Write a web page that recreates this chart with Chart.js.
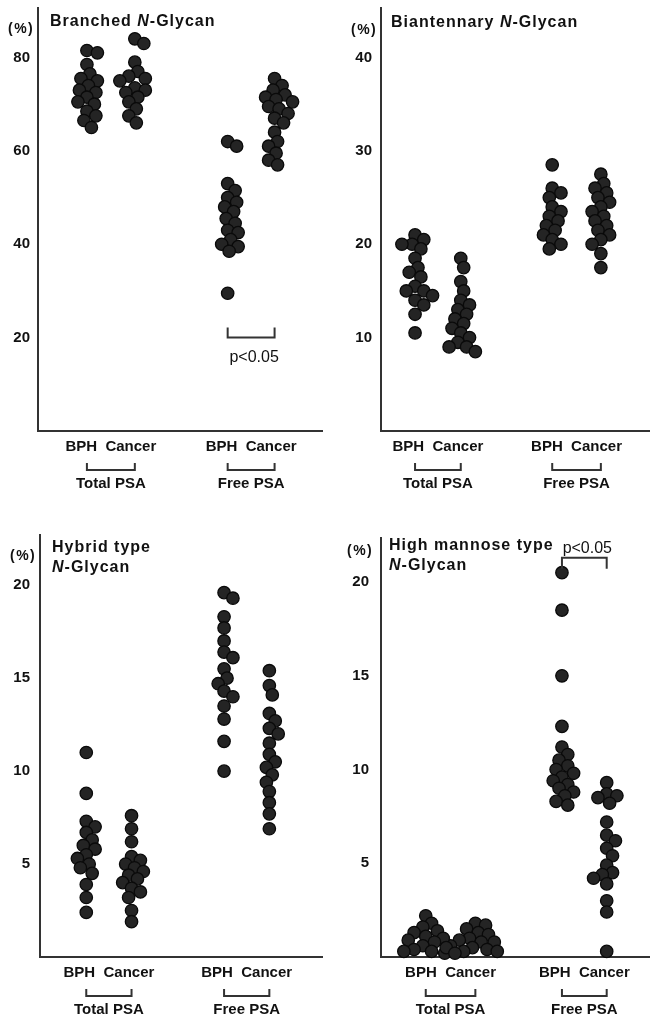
<!DOCTYPE html>
<html>
<head>
<meta charset="utf-8">
<script src="https://cdn.jsdelivr.net/npm/chart.js@4.4.1/dist/chart.umd.min.js"></script>
<style>
  html, body { margin: 0; padding: 0; background: #fff; }
  body { width: 657px; height: 1021px; position: relative; overflow: hidden;
         font-family: "Liberation Sans", Arial, sans-serif; color: #111; }
  .panel { position: absolute; }
  .panel canvas { display: block; }
  .title { position: absolute; font-weight: bold; font-size: 16px; line-height: 20px;
           letter-spacing: 1px; white-space: nowrap; }
  .unit { position: absolute; font-weight: bold; font-size: 14px; line-height: 20px; letter-spacing: 1.5px; white-space: nowrap; }
</style>
</head>
<body>

<div class="panel" style="left:0;top:0"><canvas id="c1" width="330" height="505"></canvas></div>
<div class="panel" style="left:330px;top:0"><canvas id="c2" width="327" height="505"></canvas></div>
<div class="panel" style="left:0;top:510px"><canvas id="c3" width="330" height="511"></canvas></div>
<div class="panel" style="left:330px;top:510px"><canvas id="c4" width="327" height="511"></canvas></div>

<div class="unit" style="left:8px;top:18px">(%)</div>
<div class="title" style="left:50px;top:11px">Branched <i>N</i>-Glycan</div>

<div class="unit" style="left:351px;top:19px">(%)</div>
<div class="title" style="left:391px;top:12px">Biantennary <i>N</i>-Glycan</div>

<div class="unit" style="left:10px;top:545px">(%)</div>
<div class="title" style="left:52px;top:537px">Hybrid type<br><i>N</i>-Glycan</div>

<div class="unit" style="left:347px;top:540px">(%)</div>
<div class="title" style="left:389px;top:535px">High mannose type<br><i>N</i>-Glycan</div>

<script>
// ── Categories ────────────────────────────────────────────────────────────
const groups = ['BPH', 'Cancer'];
const psaTypes = ['Total PSA', 'Free PSA'];

// ── Branched N-Glycan (%) ─────────────────────────────────────────────────
const branchedTicks = [20, 40, 60, 80];
const branchedTotalBPH    = [81.5, 81, 78.5, 76.5, 75.5, 75, 74, 73, 72.5, 71.5, 70.5, 70, 68.5, 67.5, 66.5, 65];
const branchedTotalCancer = [84, 83, 79, 77, 76, 75.5, 75, 73.5, 73, 72.5, 71.5, 70.5, 69, 67.5, 66];
const branchedFreeBPH     = [62, 61, 53, 51.5, 50, 49, 48, 47, 45.5, 44.5, 43, 42.5, 41, 40, 39.5, 38.5, 29.5];
const branchedFreeCancer  = [75.5, 74, 73, 72, 71.5, 71, 70.5, 69.5, 69, 68, 67, 66, 64, 62, 61, 59.5, 58, 57];

// ── Biantennary N-Glycan (%) ──────────────────────────────────────────────
const biantTicks = [10, 20, 30, 40];
const biantTotalBPH    = [21, 20.5, 20, 20, 19.5, 18.5, 17.5, 17, 16.5, 15.5, 15, 15, 14.5, 14, 13.5, 12.5, 10.5];
const biantTotalCancer = [18.5, 17.5, 16, 15, 14, 13.5, 13, 12.5, 12, 11.5, 11, 10.5, 10, 9.5, 9, 9, 8.5];
const biantFreeBPH     = [28.5, 26, 25.5, 25, 24, 23.5, 23, 22.5, 22, 21.5, 21, 20.5, 20, 19.5];
const biantFreeCancer  = [27.5, 26.5, 26, 25.5, 25, 24.5, 24, 23.5, 23, 22.5, 22, 21.5, 21, 20.5, 20, 19, 17.5];

// ── Hybrid type N-Glycan (%) ──────────────────────────────────────────────
const hybridTicks = [5, 10, 15, 20];
const hybridTotalBPH    = [11, 8.8, 7.3, 7, 6.7, 6.3, 6, 5.8, 5.5, 5.3, 5, 4.8, 4.5, 3.9, 3.2, 2.4];
const hybridTotalCancer = [7.6, 6.9, 6.2, 5.4, 5.2, 5, 4.8, 4.6, 4.4, 4.2, 4, 3.7, 3.5, 3.2, 2.5, 1.9];
const hybridFreeBPH     = [19.6, 19.3, 18.3, 17.7, 17, 16.4, 16.1, 15.5, 15, 14.7, 14.3, 14, 13.5, 12.8, 11.6, 10];
const hybridFreeCancer  = [15.4, 14.6, 14.1, 13.1, 12.7, 12.3, 12, 11.5, 10.9, 10.5, 10.2, 9.8, 9.4, 8.9, 8.3, 7.7, 6.9];

// ── High mannose type N-Glycan (%) ────────────────────────────────────────
const mannoseTicks = [5, 10, 15, 20];
const mannoseTotalBPH    = [2.2, 1.8, 1.6, 1.4, 1.3, 1.1, 1, 0.9, 0.8, 0.6, 0.5, 0.4, 0.3, 0.3, 0.2];
const mannoseTotalCancer = [1.8, 1.7, 1.5, 1.3, 1.2, 1, 0.9, 0.8, 0.8, 0.6, 0.5, 0.4, 0.3, 0.3, 0.2];
const mannoseFreeBPH     = [20.5, 18.5, 15, 12.3, 11.2, 10.8, 10.5, 10.2, 10, 9.8, 9.6, 9.4, 9.2, 9, 8.8, 8.6, 8.3, 8.1];
const mannoseFreeCancer  = [9.3, 8.7, 8.6, 8.5, 8.2, 7.2, 6.5, 6.2, 5.8, 5.4, 4.9, 4.5, 4.4, 4.2, 3.9, 3, 2.4, 0.3];

// ── Panel layout (pixels inside each canvas) ──────────────────────────────
const PANELS = [
  { id: 'c1', series: [branchedTotalBPH, branchedTotalCancer, branchedFreeBPH, branchedFreeCancer],
    ticks: branchedTicks, yMax: 90.6, groupX: [49, 97, 190, 237], axisLeft: 38, padRight: 7,
    top: 8, bottom: 431, tickPad: 8, sig: { from: 2, to: 3, value: 20, dir: 'up' } },
  { id: 'c2', series: [biantTotalBPH, biantTotalCancer, biantFreeBPH, biantFreeCancer],
    ticks: biantTicks, yMax: 45.3, groupX: [35, 82, 176, 226], axisLeft: 51, padRight: 0,
    top: 8, bottom: 431, tickPad: 9 },
  { id: 'c3', series: [hybridTotalBPH, hybridTotalCancer, hybridFreeBPH, hybridFreeCancer],
    ticks: hybridTicks, yMax: 22.7, groupX: [47, 93, 187, 233], axisLeft: 40, padRight: 3,
    top: 25, bottom: 447, tickPad: 10 },
  { id: 'c4', series: [mannoseTotalBPH, mannoseTotalCancer, mannoseFreeBPH, mannoseFreeCancer],
    ticks: mannoseTicks, yMax: 22.35, groupX: [46, 97, 186, 232], axisLeft: 51, padRight: 0,
    top: 28, bottom: 447, tickPad: 12, sig: { from: 2, to: 3, value: 21.3, dir: 'down' } }
];

const AXIS = '#333';
const TEXT = '#111';
const FONT = '"Liberation Sans", Arial, sans-serif';
const MIN_GAP = 9.5;

// simple beeswarm: push each point sideways until it clears the ones placed
function swarm(values, center, pxPerUnit) {
  const placed = [];
  return values.map(v => {
    const y = v * pxPerUnit;
    for (let k = 0; k < 80; k++) {
      const off = (k % 2 ? 1 : -1) * Math.ceil(k / 2) * 1.5;
      if (placed.every(p => Math.hypot(p.x - off, p.y - y) >= MIN_GAP)) {
        placed.push({ x: off, y });
        return { x: center + off, y: v };
      }
    }
    return { x: center, y: v };
  });
}

// brackets under the x labels and the p<0.05 marker
const bracketPlugin = {
  id: 'brackets',
  afterDraw(chart, args, opts) {
    const { ctx, chartArea, scales: { x, y } } = chart;
    const gx = opts.groupX;
    ctx.save();
    ctx.strokeStyle = AXIS;
    ctx.lineWidth = 2;
    [[0, 1], [2, 3]].forEach(([a, b]) => {
      const xa = x.getPixelForValue(gx[a]), xb = x.getPixelForValue(gx[b]);
      const yy = chartArea.bottom + 39;
      ctx.beginPath();
      ctx.moveTo(xa, yy - 7); ctx.lineTo(xa, yy); ctx.lineTo(xb, yy); ctx.lineTo(xb, yy - 7);
      ctx.stroke();
    });
    const s = opts.sig;
    if (s) {
      const xa = x.getPixelForValue(gx[s.from]), xb = x.getPixelForValue(gx[s.to]);
      const yy = y.getPixelForValue(s.value);
      const t = s.dir === 'up' ? -10 : 11;
      ctx.beginPath();
      ctx.moveTo(xa, yy + t); ctx.lineTo(xa, yy); ctx.lineTo(xb, yy); ctx.lineTo(xb, yy + t);
      ctx.stroke();
      ctx.fillStyle = TEXT;
      ctx.font = '16px ' + FONT;
      ctx.textAlign = 'center';
      ctx.textBaseline = 'middle';
      const ty = s.dir === 'up' ? yy + 20 : yy - 9;
      ctx.fillText('p<0.05', (xa + xb) / 2 + 3, ty);
    }
    ctx.restore();
  }
};

function buildPanel(p) {
  const canvas = document.getElementById(p.id);
  const plotW = canvas.width - p.axisLeft - p.padRight;
  const pxPerUnit = (p.bottom - p.top) / p.yMax;
  const pairCenters = [(p.groupX[0] + p.groupX[1]) / 2, (p.groupX[2] + p.groupX[3]) / 2];

  const datasets = p.series.map((vals, i) => ({
    label: psaTypes[i >> 1] + ' ' + groups[i % 2],
    data: swarm(vals, p.groupX[i], pxPerUnit),
    pointRadius: 6.2,
    pointBackgroundColor: '#242424',
    pointBorderColor: '#0a0a0a',
    pointBorderWidth: 1.3,
    showLine: false,
    clip: false
  }));

  return new Chart(canvas, {
    type: 'scatter',
    data: { datasets },
    plugins: [bracketPlugin],
    options: {
      responsive: false,
      animation: false,
      devicePixelRatio: 1,
      layout: { padding: { left: 0, right: p.padRight, top: p.top, bottom: 0 } },
      plugins: {
        legend: { display: false },
        tooltip: { enabled: false },
        brackets: { groupX: p.groupX, sig: p.sig }
      },
      scales: {
        x: {
          type: 'linear', min: 0, max: plotW,
          grid: { display: false, drawTicks: false },
          border: { display: true, color: AXIS, width: 2 },
          afterBuildTicks: s => { s.ticks = pairCenters.map(v => ({ value: v })); },
          afterFit: s => { s.height = canvas.height - p.bottom; s.paddingLeft = 0; s.paddingRight = 0; },
          ticks: {
            autoSkip: false, maxRotation: 0, minRotation: 0, padding: 7,
            color: TEXT,
            font: { family: FONT, size: 15, weight: 'bold', lineHeight: 1.23 },
            callback: (v, i) => [groups.join('  '), '', psaTypes[i]]
          }
        },
        y: {
          type: 'linear', min: 0, max: p.yMax,
          grid: { display: false, drawTicks: false },
          border: { display: true, color: AXIS, width: 2 },
          afterBuildTicks: s => { s.ticks = p.ticks.map(v => ({ value: v })); },
          afterFit: s => { s.width = p.axisLeft; s.paddingTop = 0; s.paddingBottom = 0; },
          ticks: {
            padding: p.tickPad, color: TEXT,
            font: { family: FONT, size: 15, weight: 'bold' }
          }
        }
      }
    }
  });
}

PANELS.forEach(buildPanel);
</script>
</body>
</html>
